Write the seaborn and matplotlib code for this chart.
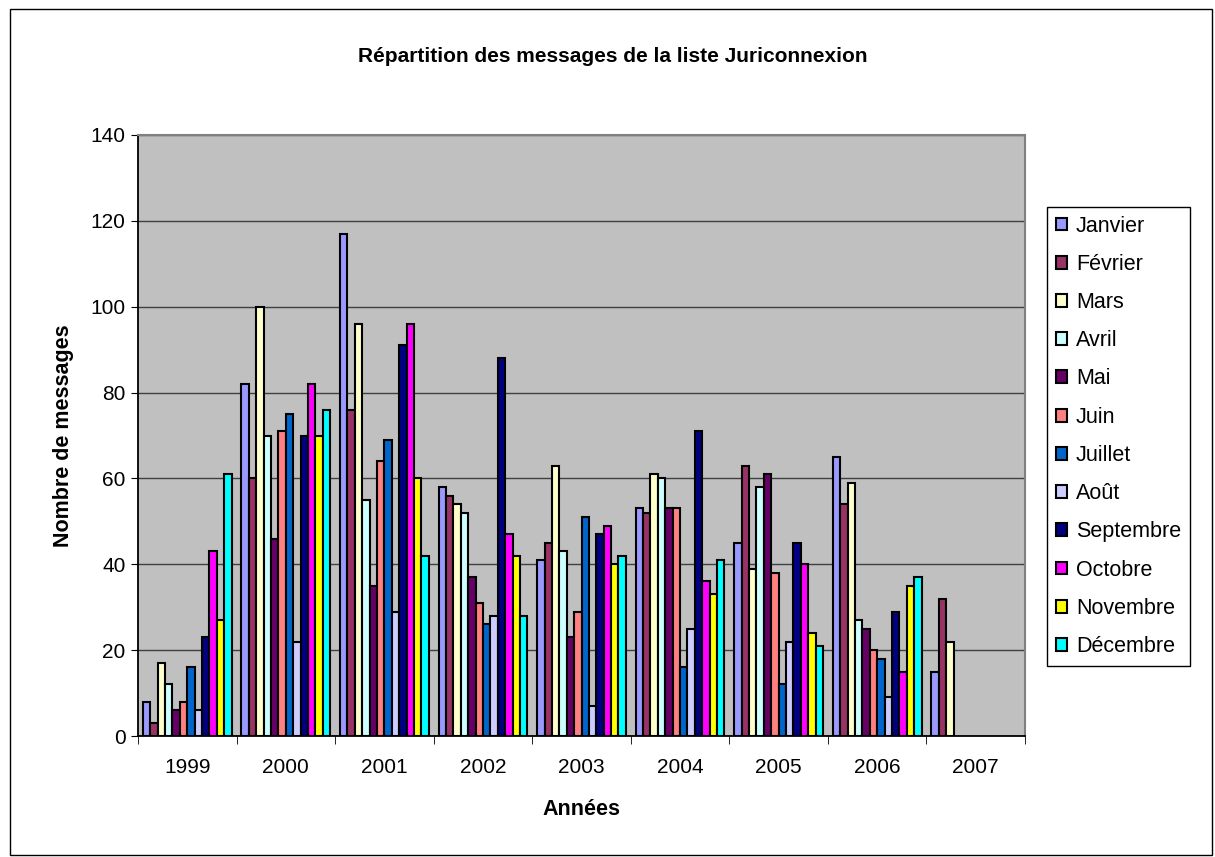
import numpy as np
import pandas as pd
import seaborn as sns
import matplotlib.pyplot as plt
from matplotlib.patches import Rectangle

# data
years = ["1999", "2000", "2001", "2002", "2003", "2004", "2005", "2006", "2007"]
months = ["Janvier", "Février", "Mars", "Avril", "Mai", "Juin", "Juillet",
          "Août", "Septembre", "Octobre", "Novembre", "Décembre"]
v1999 = [8, 3, 17, 12, 6, 8, 16, 6, 23, 43, 27, 61]
v2000 = [82, 60, 100, 70, 46, 71, 75, 22, 70, 82, 70, 76]
v2001 = [117, 76, 96, 55, 35, 64, 69, 29, 91, 96, 60, 42]
v2002 = [58, 56, 54, 52, 37, 31, 26, 28, 88, 47, 42, 28]
v2003 = [41, 45, 63, 43, 23, 29, 51, 7, 47, 49, 40, 42]
v2004 = [53, 52, 61, 60, 53, 53, 16, 25, 71, 36, 33, 41]
v2005 = [45, 63, 39, 58, 61, 38, 12, 22, 45, 40, 24, 21]
v2006 = [65, 54, 59, 27, 25, 20, 18, 9, 29, 15, 35, 37]
v2007 = [15, 32, 22, np.nan, np.nan, np.nan, np.nan, np.nan, np.nan, np.nan, np.nan, np.nan]

colors = ["#9999FF", "#993366", "#FFFFCC", "#CCFFFF", "#660066", "#FF8080",
          "#0066CC", "#CCCCFF", "#000080", "#FF00FF", "#FFFF00", "#00FFFF"]

all_vals = [v1999, v2000, v2001, v2002, v2003, v2004, v2005, v2006, v2007]
rows = []
for y, vals in zip(years, all_vals):
    for m, v in zip(months, vals):
        rows.append({"annee": y, "mois": m, "messages": v})
df = pd.DataFrame(rows)

sns.set_style("white")
plt.rcParams["font.family"] = ["Liberation Sans", "DejaVu Sans"]
plt.rcParams["text.color"] = "black"
plt.rcParams["axes.labelcolor"] = "black"
plt.rcParams["xtick.color"] = "black"
plt.rcParams["ytick.color"] = "black"

fig = plt.figure(figsize=(12.15, 8.57), dpi=100)
ax = fig.add_axes([138 / 1215, 1 - 736 / 857, 887 / 1215, 601 / 857])
ax.set_facecolor("#C0C0C0")

sns.barplot(data=df, x="annee", y="messages", hue="mois", order=years,
            hue_order=months, palette=colors, saturation=1, width=0.9,
            edgecolor="black", linewidth=1.5, ax=ax, zorder=3)

ax.set_ylim(0, 140)
ax.set_xlim(-0.5, 8.5)
ax.set_yticks(range(0, 141, 20))
ax.yaxis.grid(True, color="#404040", linewidth=1, zorder=0)
ax.set_axisbelow(True)
ax.tick_params(axis="y", labelsize=15, length=5, direction="out", left=True, pad=4)
ax.tick_params(axis="x", which="major", labelsize=15, length=0, pad=16)
ax.set_xticks(np.arange(-0.5, 9, 1), minor=True)
ax.tick_params(axis="x", which="minor", length=6, direction="out", bottom=True)

for s in ["top", "right"]:
    ax.spines[s].set_color("#808080")
    ax.spines[s].set_linewidth(1.5)
for s in ["left", "bottom"]:
    ax.spines[s].set_color("black")
    ax.spines[s].set_linewidth(1.3)

ax.set_xlabel("Années", fontsize=15.5, fontweight="bold", labelpad=16)
ax.set_ylabel("Nombre de messages", fontsize=15.5, fontweight="bold", labelpad=12)

fig.text(613 / 1215, 1 - 57 / 857, "Répartition des messages de la liste Juriconnexion",
         ha="center", va="center", fontsize=15, fontweight="bold")

handles, labels = ax.get_legend_handles_labels()
ax.legend(handles, labels, loc="upper left", bbox_to_anchor=(1047 / 1215, 1 - 207 / 857),
          bbox_transform=fig.transFigure, borderaxespad=0, fontsize=15.5, frameon=True,
          fancybox=False, edgecolor="black", framealpha=1, labelspacing=0.8,
          handlelength=0.55, handleheight=0.55, handletextpad=0.4, borderpad=0.4)
ax.get_legend().get_frame().set_linewidth(1)

fig.patches.append(Rectangle((10 / 1215, 2 / 857), 1202 / 1215, 846 / 857,
                             transform=fig.transFigure, fill=False,
                             edgecolor="black", linewidth=1))

fig.savefig("out.png", dpi=100)
